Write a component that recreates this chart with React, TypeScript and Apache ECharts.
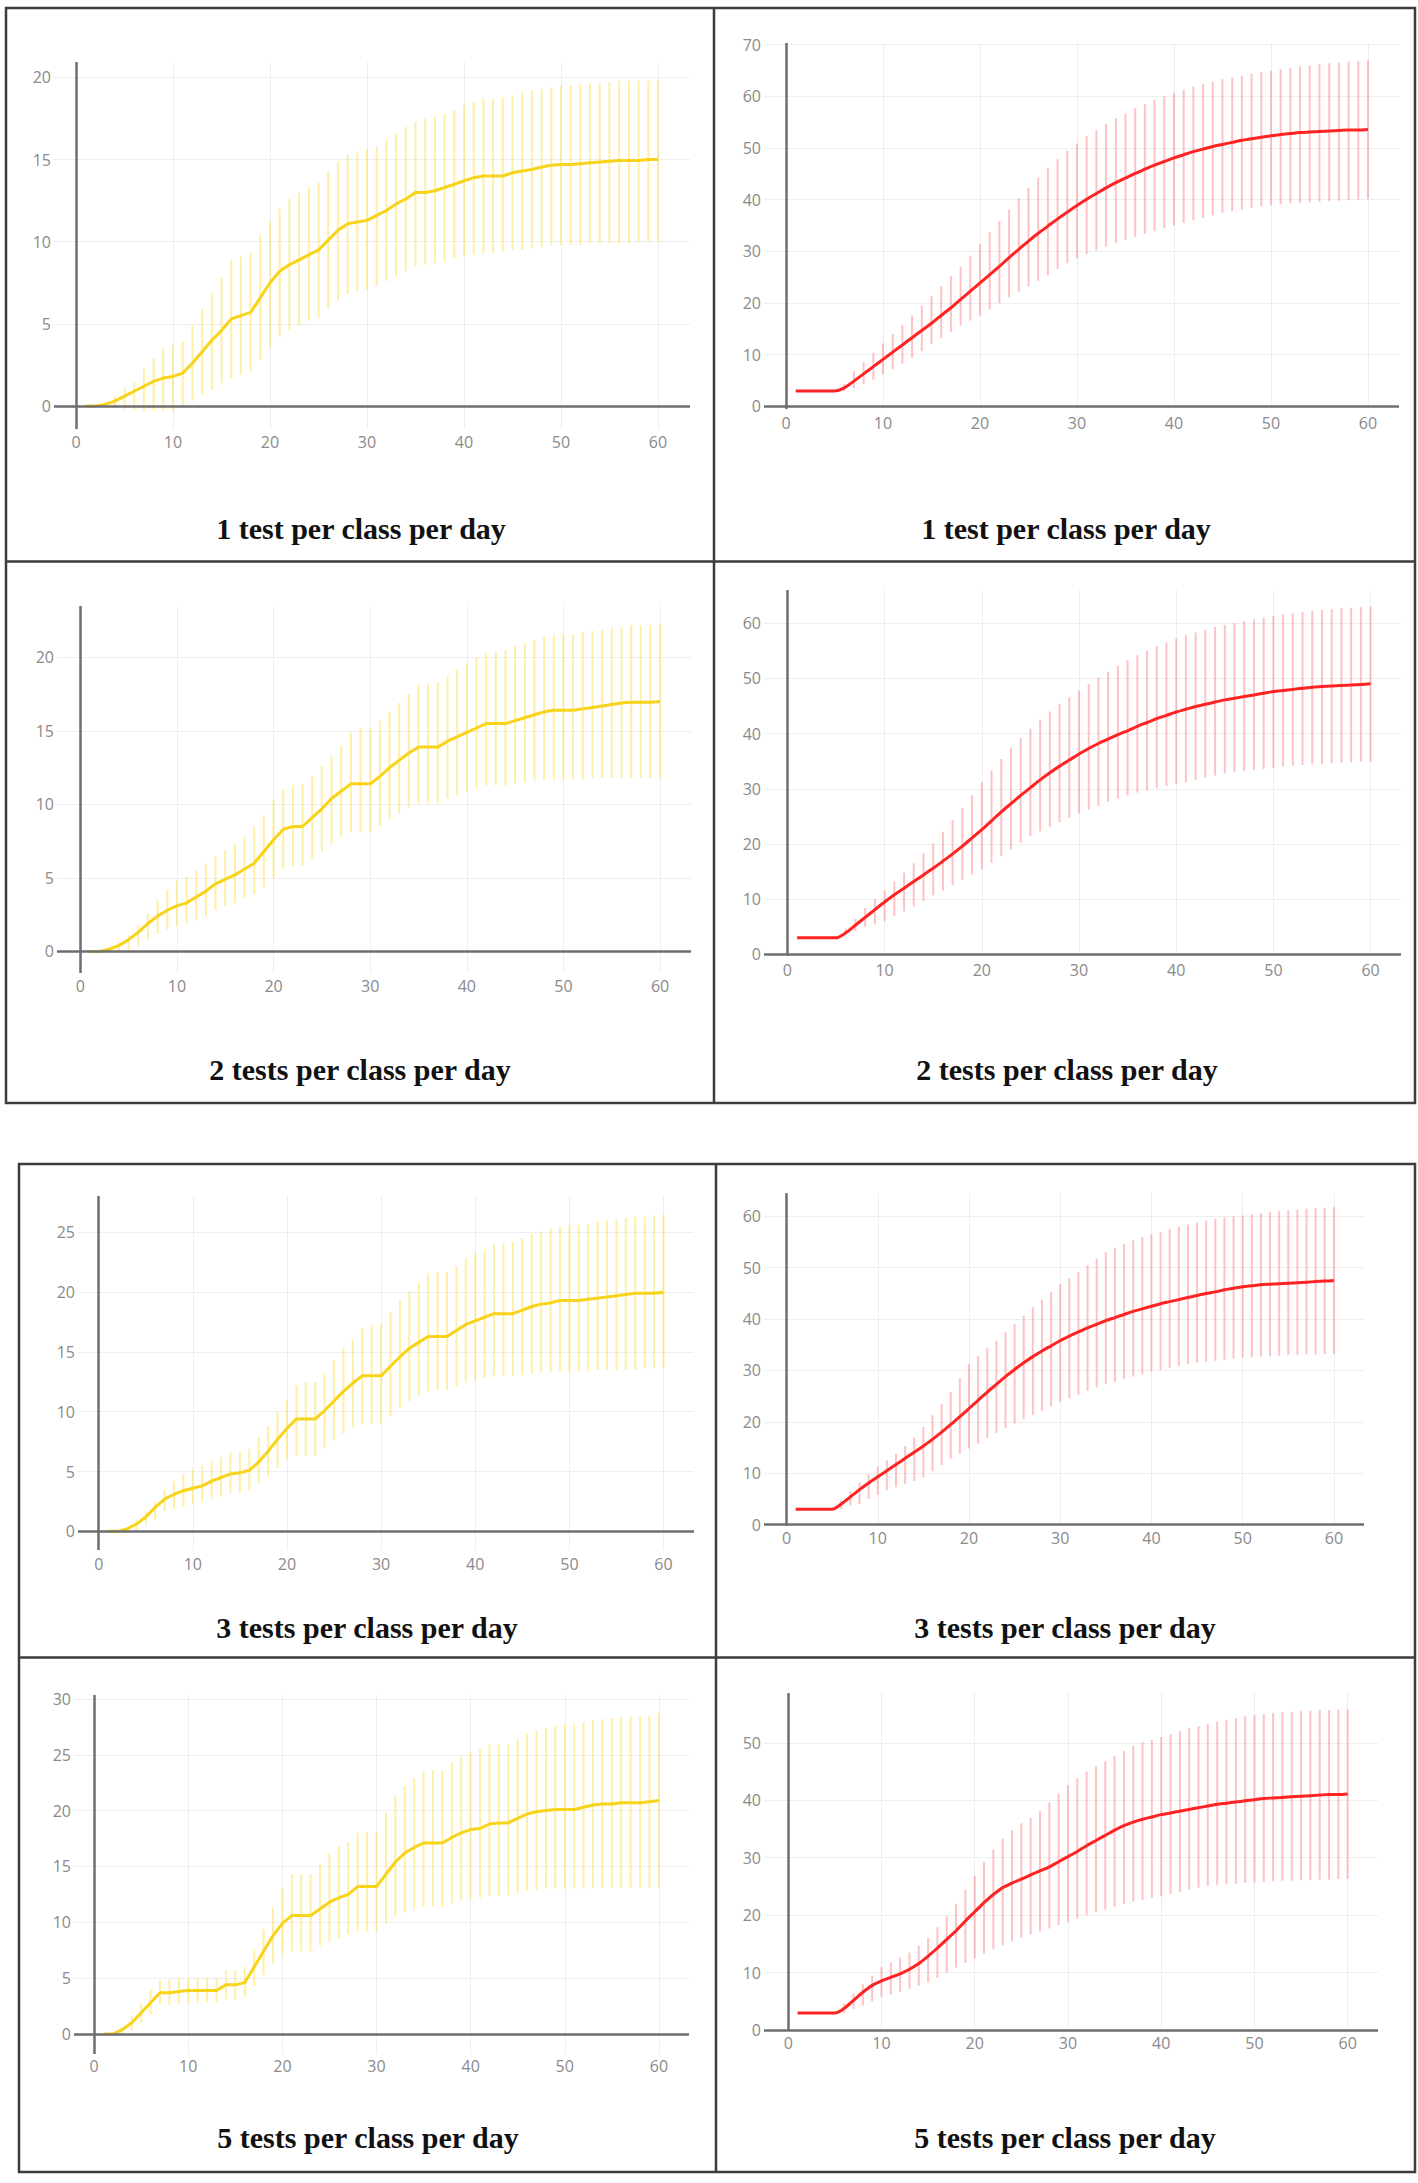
import React, { useEffect, useRef } from "react";
import * as echarts from "echarts";

// ---------- data ----------
const DAYS = [
  1, 2, 3, 4, 5, 6, 7, 8, 9, 10, 11, 12, 13, 14, 15, 16, 17, 18, 19, 20,
  21, 22, 23, 24, 25, 26, 27, 28, 29, 30, 31, 32, 33, 34, 35, 36, 37, 38, 39, 40,
  41, 42, 43, 44, 45, 46, 47, 48, 49, 50, 51, 52, 53, 54, 55, 56, 57, 58, 59, 60,
];
const X_TICKS = [0, 10, 20, 30, 40, 50, 60];

// 1 test per class per day (yellow)
const T1_Y_MEAN = [0,0,0.1,0.3,0.6,0.9,1.2,1.5,1.7,1.8, 2.0,2.6,3.3,4.0,4.6,5.3,5.5,5.7,6.6,7.5, 8.2,8.6,8.9,9.2,9.5,10.1,10.7,11.1,11.2,11.3, 11.6,11.9,12.3,12.6,13.0,13.0,13.1,13.3,13.5,13.7, 13.9,14.0,14.0,14.0,14.2,14.3,14.4,14.55,14.65,14.7, 14.7,14.75,14.8,14.85,14.9,14.95,14.95,14.95,15.0,15.0];
const T1_Y_HI = [0,0,0.2,0.6,1.1,1.5,2.3,2.9,3.5,3.7, 3.9,4.9,5.9,6.9,7.8,8.9,9.1,9.3,10.4,11.2, 12.0,12.6,13.0,13.3,13.6,14.3,14.9,15.3,15.5,15.6, 15.8,16.2,16.6,17.0,17.3,17.5,17.6,17.8,18.0,18.3, 18.5,18.7,18.7,18.8,18.9,19.1,19.2,19.3,19.4,19.5, 19.5,19.6,19.6,19.7,19.7,19.8,19.8,19.8,19.8,19.9];
const T1_Y_LO = [0,0,0,-0.1,-0.2,-0.3,-0.3,-0.3,-0.3,-0.3, 0,0.3,0.7,1.0,1.4,1.7,1.9,2.1,2.8,3.6, 4.2,4.6,4.9,5.2,5.4,5.9,6.4,6.8,7.0,7.1, 7.3,7.6,7.9,8.2,8.5,8.6,8.7,8.8,9.0,9.1, 9.2,9.3,9.3,9.4,9.5,9.5,9.6,9.7,9.8,9.8, 9.8,9.8,9.9,9.9,9.9,9.9,9.9,10.0,10.0,10.0];
const T1_Y_TICKS = [0, 5, 10, 15, 20];

// 1 test per class per day (red)
const T1_R_MEAN = [3,3,3,3,3,3.6,4.9,6.3,7.7,9.1, 10.5,11.9,13.3,14.7,16.1,17.6,19.1,20.7,22.3,23.9, 25.5,27.1,28.8,30.4,32.0,33.5,34.9,36.3,37.6,38.9, 40.1,41.2,42.3,43.3,44.2,45.1,45.9,46.7,47.4,48.1, 48.7,49.3,49.8,50.3,50.7,51.1,51.5,51.8,52.1,52.4, 52.6,52.8,53.0,53.1,53.2,53.3,53.4,53.5,53.5,53.6];
const T1_R_HI = [3,3,3,3,3,4.3,6.8,8.6,10.4,12.2, 14.0,15.8,17.6,19.5,21.4,23.3,25.2,27.1,29.2,31.4, 33.7,35.9,38.1,40.3,42.3,44.3,46.2,47.9,49.5,50.9, 52.3,53.5,54.7,55.8,56.7,57.7,58.5,59.3,60.0,60.7, 61.3,61.9,62.4,62.9,63.3,63.7,64.0,64.4,64.7,65.0, 65.3,65.5,65.8,66.0,66.2,66.4,66.5,66.7,66.8,67.0];
const T1_R_LO = [3,3,3,3,3,3.0,3.5,4.3,5.2,6.2, 7.2,8.3,9.4,10.7,12.0,13.2,14.4,15.6,16.6,17.6, 18.8,20.0,21.1,22.2,23.2,24.3,25.4,26.6,27.7,28.7, 29.5,30.2,30.9,31.6,32.2,32.8,33.4,33.9,34.5,35.0, 35.5,36.0,36.5,37.0,37.5,37.8,38.1,38.4,38.7,38.9, 39.1,39.3,39.4,39.5,39.6,39.7,39.8,39.9,40.0,40.1];
const T1_R_TICKS = [0, 10, 20, 30, 40, 50, 60, 70];

// 2 tests per class per day (yellow)
const T2_Y_MEAN = [0,0,0.15,0.4,0.8,1.3,1.9,2.4,2.8,3.1, 3.3,3.7,4.1,4.6,4.9,5.2,5.6,6.0,6.8,7.6, 8.3,8.5,8.5,9.1,9.7,10.4,10.9,11.4,11.4,11.4, 11.9,12.5,13.0,13.5,13.9,13.9,13.9,14.3,14.6,14.9, 15.2,15.5,15.5,15.5,15.7,15.9,16.1,16.3,16.4,16.4, 16.4,16.5,16.6,16.7,16.8,16.9,16.95,16.95,16.95,17.0];
const T2_Y_HI = [0,0,0.2,0.6,1.1,1.8,2.6,3.5,4.2,4.8, 5.1,5.5,6.0,6.5,6.9,7.3,7.8,8.5,9.3,10.3, 11.0,11.3,11.4,11.9,12.6,13.3,14.0,14.9,15.2,15.2, 15.7,16.3,16.9,17.5,18.1,18.2,18.3,18.7,19.2,19.6, 20.0,20.3,20.4,20.5,20.8,21.0,21.2,21.4,21.5,21.6, 21.6,21.7,21.8,21.9,22.0,22.1,22.2,22.2,22.2,22.3];
const T2_Y_LO = [0,0,0,-0.1,0,0.3,0.8,1.2,1.5,1.7, 1.9,2.1,2.4,2.8,3.1,3.3,3.6,3.9,4.4,5.0, 5.6,5.8,5.8,6.3,6.8,7.3,7.8,8.1,8.1,8.1, 8.5,9.0,9.4,9.8,10.1,10.1,10.1,10.4,10.6,10.9, 11.1,11.3,11.3,11.3,11.4,11.5,11.6,11.7,11.7,11.7, 11.7,11.7,11.8,11.8,11.8,11.8,11.8,11.8,11.8,11.8];
const T2_Y_TICKS = [0, 5, 10, 15, 20];

// 2 tests per class per day (red)
const T2_R_MEAN = [3,3,3,3,3,3.9,5.3,6.7,8.1,9.5, 10.8,12.0,13.2,14.4,15.6,16.9,18.2,19.6,21.1,22.6, 24.2,25.8,27.3,28.8,30.2,31.6,32.9,34.1,35.2,36.3, 37.3,38.2,39.0,39.8,40.5,41.3,42.0,42.7,43.3,43.9, 44.4,44.9,45.3,45.7,46.1,46.4,46.7,47.0,47.3,47.6, 47.8,48.0,48.2,48.4,48.5,48.6,48.7,48.8,48.9,49.0];
const T2_R_HI = [3,3,3,3,3,4.7,6.4,8.4,10.0,11.6, 13.2,14.8,16.5,18.3,20.1,22.2,24.3,26.5,28.8,31.2, 33.3,35.4,37.4,39.2,40.9,42.5,44.0,45.4,46.6,47.8, 49.0,50.1,51.2,52.3,53.3,54.2,55.0,55.8,56.5,57.2, 57.8,58.3,58.8,59.3,59.7,60.0,60.4,60.7,61.0,61.3, 61.6,61.8,62.0,62.2,62.4,62.5,62.7,62.8,62.9,63.0];
const T2_R_LO = [3,3,3,3,3,3.7,4.3,5.0,5.5,6.0, 6.9,7.8,8.7,9.7,10.7,11.6,12.6,13.5,14.5,15.4, 16.6,17.8,19.0,20.2,21.4,22.3,23.1,23.9,24.7,25.5, 26.2,26.9,27.6,28.2,28.8,29.3,29.7,30.1,30.5,30.8, 31.2,31.6,32.0,32.4,32.8,33.0,33.2,33.4,33.6,33.8, 34.0,34.2,34.3,34.4,34.5,34.6,34.7,34.8,34.9,34.9];
const T2_R_TICKS = [0, 10, 20, 30, 40, 50, 60];

// 3 tests per class per day (yellow)
const T3_Y_MEAN = [0,0,0.2,0.6,1.2,2.0,2.7,3.1,3.4,3.6, 3.8,4.2,4.5,4.8,4.9,5.1,5.8,6.7,7.7,8.6, 9.4,9.4,9.4,10.1,10.9,11.7,12.4,13.0,13.0,13.0, 13.8,14.6,15.3,15.8,16.3,16.3,16.3,16.8,17.3,17.6, 17.9,18.2,18.2,18.2,18.5,18.8,19.0,19.1,19.3,19.3, 19.3,19.4,19.5,19.6,19.7,19.8,19.9,19.9,19.9,20.0];
const T3_Y_HI = [0,0,0.3,0.9,1.6,2.4,3.5,4.2,4.8,5.2, 5.5,5.9,6.2,6.6,6.7,6.9,7.8,8.8,10.0,11.0, 12.2,12.5,12.5,13.2,14.3,15.3,16.0,17.0,17.3,17.4, 18.3,19.3,20.1,20.8,21.6,21.7,21.7,22.2,22.8,23.2, 23.6,24.0,24.1,24.2,24.5,24.9,25.1,25.3,25.5,25.6, 25.6,25.7,25.9,26.0,26.1,26.2,26.3,26.3,26.4,26.5];
const T3_Y_LO = [0,0,0,0.1,0.6,1.0,1.7,1.9,2.1,2.3, 2.5,2.7,2.9,3.2,3.2,3.4,4.0,4.6,5.3,6.0, 6.3,6.3,6.3,6.9,7.6,8.2,8.7,9.0,9.0,9.0, 9.6,10.3,10.9,11.3,11.7,11.8,11.8,12.1,12.4,12.6, 12.8,13.0,13.0,13.0,13.1,13.2,13.3,13.3,13.4,13.4, 13.4,13.4,13.5,13.5,13.5,13.5,13.5,13.6,13.6,13.6];
const T3_Y_TICKS = [0, 5, 10, 15, 20, 25];

// 3 tests per class per day (red)
const T3_R_MEAN = [3,3,3,3,3,4.0,5.4,6.8,8.1,9.3, 10.5,11.7,12.9,14.1,15.3,16.6,18.0,19.5,21.0,22.6, 24.2,25.8,27.3,28.8,30.2,31.5,32.7,33.8,34.8,35.8, 36.7,37.5,38.3,39.0,39.7,40.3,40.9,41.5,42.0,42.5, 43.0,43.4,43.8,44.2,44.6,45.0,45.3,45.7,46.0,46.3, 46.5,46.7,46.8,46.9,47.0,47.1,47.2,47.3,47.4,47.5];
const T3_R_HI = [3,3,3,3,3,4.7,6.5,8.2,9.8,11.3, 12.5,13.8,15.3,17.0,19.0,21.3,23.5,25.8,28.5,31.2, 32.8,34.3,35.8,37.4,39.0,40.7,42.3,43.8,45.3,46.8, 48.0,49.2,50.5,51.8,53.0,53.9,54.7,55.4,56.0,56.5, 57.0,57.5,58.0,58.4,58.8,59.2,59.5,59.8,60.0,60.2, 60.4,60.6,60.8,61.0,61.2,61.3,61.5,61.6,61.7,61.8];
const T3_R_LO = [3,3,3,3,3,3.0,3.7,4.0,5.0,5.8, 6.7,7.3,7.9,8.5,9.2,10.4,11.6,12.8,13.8,14.8, 15.8,16.8,17.8,18.8,19.7,20.5,21.3,22.1,23.0,23.9, 24.6,25.3,26.0,26.7,27.3,27.8,28.3,28.8,29.3,29.8, 30.1,30.5,30.9,31.2,31.5,31.7,31.9,32.1,32.3,32.5, 32.6,32.7,32.8,32.9,33.0,33.0,33.1,33.1,33.2,33.2];
const T3_R_TICKS = [0, 10, 20, 30, 40, 50, 60];

// 5 tests per class per day (yellow)
const T5_Y_MEAN = [0,0,0.4,1.0,1.9,2.8,3.7,3.7,3.8,3.9, 3.9,3.9,3.9,4.4,4.4,4.6,6.0,7.4,8.8,9.9, 10.6,10.6,10.6,11.2,11.8,12.2,12.5,13.2,13.2,13.2, 14.3,15.4,16.2,16.7,17.1,17.1,17.1,17.6,18.0,18.3, 18.4,18.8,18.9,18.9,19.3,19.7,19.9,20.0,20.1,20.1, 20.1,20.3,20.5,20.6,20.6,20.7,20.7,20.7,20.8,20.9];
const T5_Y_HI = [0,0,0.6,1.6,2.8,4.0,4.8,4.9,5.0,5.0, 5.0,5.0,5.0,5.7,5.7,6.0,7.6,9.4,11.3,13.0, 14.3,14.3,14.3,15.2,16.2,16.8,17.2,18.0,18.1,18.1, 19.8,21.3,22.2,22.9,23.5,23.6,23.6,24.3,24.8,25.2, 25.5,25.9,25.9,25.9,26.4,26.9,27.2,27.4,27.6,27.7, 27.7,27.9,28.1,28.2,28.3,28.4,28.4,28.4,28.5,28.7];
const T5_Y_LO = [0,0,0,0.3,1.0,1.8,2.6,2.6,2.7,2.8, 2.8,2.8,2.8,3.1,3.1,3.3,4.3,5.3,6.3,7.2, 7.4,7.4,7.4,7.9,8.3,8.6,8.9,9.2,9.2,9.2, 9.9,10.5,10.9,11.2,11.4,11.4,11.4,11.7,11.9,12.1, 12.2,12.4,12.4,12.4,12.6,12.8,12.9,13.0,13.0,13.0, 13.0,13.0,13.1,13.1,13.1,13.1,13.1,13.1,13.1,13.1];
const T5_Y_TICKS = [0, 5, 10, 15, 20, 25, 30];

// 5 tests per class per day (red)
const T5_R_MEAN = [3,3,3,3,3,3.8,5.2,6.6,7.8,8.6, 9.2,9.8,10.6,11.6,12.9,14.3,15.8,17.3,19.0,20.6, 22.2,23.6,24.8,25.6,26.3,27.0,27.7,28.4,29.3,30.2, 31.1,32.1,33.0,33.9,34.8,35.6,36.2,36.7,37.1,37.5, 37.8,38.1,38.4,38.7,39.0,39.3,39.5,39.7,39.9,40.1, 40.3,40.4,40.5,40.6,40.7,40.8,40.9,41.0,41.0,41.1];
const T5_R_HI = [3,3,3,3,3,4.6,6.4,8.0,9.5,11.0, 11.8,12.6,13.5,14.7,16.1,17.9,19.8,22.0,24.4,26.9, 29.3,31.4,33.3,34.8,36.0,36.9,38.1,39.6,41.1,42.6, 43.8,45.0,45.9,46.8,47.7,48.6,49.5,50.1,50.5,51.0, 51.5,52.0,52.5,52.9,53.3,53.7,54.0,54.3,54.6,54.8, 55.0,55.2,55.3,55.4,55.5,55.6,55.7,55.7,55.8,55.8];
const T5_R_LO = [3,3,3,3,3,3.0,3.7,4.3,5.0,5.8, 6.2,6.7,7.2,7.7,8.3,9.1,10.0,10.9,11.7,12.5, 13.3,14.1,14.8,15.5,16.1,16.7,17.2,17.7,18.3,18.8, 19.4,20.0,20.5,21.0,21.5,22.0,22.4,22.7,23.0,23.3, 23.7,24.1,24.5,24.8,25.1,25.3,25.4,25.5,25.6,25.7, 25.8,25.9,26.0,26.0,26.1,26.1,26.2,26.2,26.3,26.3];
const T5_R_TICKS = [0, 10, 20, 30, 40, 50];

const TITLES = [
  "1 test per class per day",
  "1 test per class per day",
  "2 tests per class per day",
  "2 tests per class per day",
  "3 tests per class per day",
  "3 tests per class per day",
  "5 tests per class per day",
  "5 tests per class per day",
];

// ---------- styles / layout ----------
const YELLOW = { line: "#f7d31a", bar: "rgba(255, 226, 90, 0.55)", smooth: false as boolean | number };
const RED = { line: "#ff2222", bar: "rgba(255, 125, 125, 0.47)", smooth: 0.3 as boolean | number };

type Panel = {
  title: string;
  mean: number[];
  lo: number[];
  hi: number[];
  yTicks: number[];
  pal: { line: string; bar: string; smooth: boolean | number };
  box: [number, number, number, number]; // left, top, right, bottom (px)
  xr: [number, number];
  yr: [number, number];
  xm: number;
  ym: number;
  tx: number;
  ty: number;
};

const PANELS: Panel[] = [
  { title: TITLES[0], mean: T1_Y_MEAN, lo: T1_Y_LO, hi: T1_Y_HI, yTicks: T1_Y_TICKS, pal: YELLOW,
    box: [54, 62, 690, 429], xr: [-2.27, 63.3], yr: [-1.4, 20.94], xm: 5, ym: 3, tx: 361, ty: 528 },
  { title: TITLES[1], mean: T1_R_MEAN, lo: T1_R_LO, hi: T1_R_HI, yTicks: T1_R_TICKS, pal: RED,
    box: [764, 43, 1399, 409], xr: [-2.27, 63.2], yr: [-0.5, 70.33], xm: 6, ym: 3, tx: 1066, ty: 528 },
  { title: TITLES[2], mean: T2_Y_MEAN, lo: T2_Y_LO, hi: T2_Y_HI, yTicks: T2_Y_TICKS, pal: YELLOW,
    box: [57, 606, 691, 973], xr: [-2.41, 63.2], yr: [-1.47, 23.5], xm: 5, ym: 3, tx: 360, ty: 1069 },
  { title: TITLES[3], mean: T2_R_MEAN, lo: T2_R_LO, hi: T2_R_HI, yTicks: T2_R_TICKS, pal: RED,
    box: [764, 590, 1401, 956], xr: [-2.41, 63.13], yr: [-0.29, 66.0], xm: 6, ym: 3, tx: 1067, ty: 1069 },
  { title: TITLES[4], mean: T3_Y_MEAN, lo: T3_Y_LO, hi: T3_Y_HI, yTicks: T3_Y_TICKS, pal: YELLOW,
    box: [78, 1196, 694, 1550], xr: [-2.2, 63.24], yr: [-1.56, 28.04], xm: 6, ym: 3, tx: 367, ty: 1627 },
  { title: TITLES[5], mean: T3_R_MEAN, lo: T3_R_LO, hi: T3_R_HI, yTicks: T3_R_TICKS, pal: RED,
    box: [764, 1193, 1364, 1526], xr: [-2.47, 63.3], yr: [-0.27, 64.55], xm: 4, ym: 3, tx: 1065, ty: 1627 },
  { title: TITLES[6], mean: T5_Y_MEAN, lo: T5_Y_LO, hi: T5_Y_HI, yTicks: T5_Y_TICKS, pal: YELLOW,
    box: [74, 1695, 689, 2054], xr: [-2.14, 63.2], yr: [-1.79, 30.35], xm: 4, ym: 3, tx: 368, ty: 2137 },
  { title: TITLES[7], mean: T5_R_MEAN, lo: T5_R_LO, hi: T5_R_HI, yTicks: T5_R_TICKS, pal: RED,
    box: [764, 1693, 1378, 2031], xr: [-2.6, 63.25], yr: [-0.14, 58.66], xm: 4, ym: 3, tx: 1065, ty: 2137 },
];

const LABEL_STYLE = { color: "#8a8a8a", fontSize: 16, fontFamily: "Open Sans" };
const BORDER = "#3c3c3c";

function buildOption(): any {
  const grid = PANELS.map((p) => ({
    left: p.box[0],
    top: p.box[1],
    width: p.box[2] - p.box[0],
    height: p.box[3] - p.box[1],
  }));
  const xAxis = PANELS.map((p, i) => ({
    type: "value",
    gridIndex: i,
    min: p.xr[0],
    max: p.xr[1],
    axisLine: { show: false },
    axisTick: { show: false, customValues: X_TICKS },
    axisLabel: { ...LABEL_STYLE, margin: p.xm, customValues: X_TICKS },
    splitLine: { show: true, lineStyle: { color: "#eeeeee", width: 1 } },
  }));
  const yAxis = PANELS.map((p, i) => ({
    type: "value",
    gridIndex: i,
    min: p.yr[0],
    max: p.yr[1],
    axisLine: { show: false },
    axisTick: { show: false, customValues: p.yTicks },
    axisLabel: { ...LABEL_STYLE, margin: p.ym, customValues: p.yTicks },
    splitLine: { show: true, lineStyle: { color: "#eeeeee", width: 1 } },
  }));
  const series: any[] = [];
  PANELS.forEach((p, i) => {
    series.push({
      type: "custom",
      xAxisIndex: i,
      yAxisIndex: i,
      silent: true,
      z: 2,
      encode: { x: 0, y: [1, 2] },
      data: DAYS.map((d, k) => [d, p.lo[k], p.hi[k]]),
      renderItem: (params: any, api: any) => {
        const x = api.value(0);
        const a = api.coord([x, api.value(1)]);
        const b = api.coord([x, api.value(2)]);
        return {
          type: "line",
          shape: { x1: a[0], y1: a[1], x2: b[0], y2: b[1] },
          style: { stroke: p.pal.bar, lineWidth: 2 },
        };
      },
      markLine: {
        silent: true,
        symbol: ["none", "none"],
        label: { show: false },
        lineStyle: { color: "#6e6e6e", width: 2.5, type: "solid" },
        data: [{ yAxis: 0 }, { xAxis: 0 }],
      },
    });
    series.push({
      type: "line",
      xAxisIndex: i,
      yAxisIndex: i,
      silent: true,
      z: 3,
      showSymbol: false,
      symbol: "none",
      smooth: p.pal.smooth,
      lineStyle: { color: p.pal.line, width: 3 },
      data: DAYS.map((d, k) => [d, p.mean[k]]),
    });
  });

  const lineEl = (x1: number, y1: number, x2: number, y2: number) => ({
    type: "line",
    silent: true,
    shape: { x1, y1, x2, y2 },
    style: { stroke: BORDER, lineWidth: 2.5 },
  });
  const graphic: any[] = [
    { type: "rect", silent: true, shape: { x: 6, y: 8, width: 1409, height: 1095 }, style: { fill: "none", stroke: BORDER, lineWidth: 2.5 } },
    lineEl(714, 8, 714, 1103),
    lineEl(6, 561.5, 1415, 561.5),
    { type: "rect", silent: true, shape: { x: 19, y: 1164, width: 1396, height: 1008 }, style: { fill: "none", stroke: BORDER, lineWidth: 2.5 } },
    lineEl(716, 1164, 716, 2172),
    lineEl(19, 1657.5, 1415, 1657.5),
  ];
  PANELS.forEach((p) => {
    graphic.push({
      type: "text",
      silent: true,
      x: p.tx,
      y: p.ty,
      style: {
        text: p.title,
        fill: "#111",
        fontSize: 30,
        fontWeight: "bold",
        fontFamily: "'Liberation Serif', 'Times New Roman', serif",
        align: "center",
        verticalAlign: "middle",
        textAlign: "center",
        textVerticalAlign: "middle",
      },
    });
  });

  return {
    animation: false,
    backgroundColor: "#ffffff",
    grid,
    xAxis,
    yAxis,
    series,
    graphic,
  };
}

export default function App() {
  const ref = useRef<HTMLDivElement>(null);
  useEffect(() => {
    document.body.style.margin = "0";
    const chart = echarts.init(ref.current as HTMLDivElement, null, { renderer: "svg" });
    chart.setOption(buildOption());
    return () => chart.dispose();
  }, []);
  return (
    <div
      ref={ref}
      style={{ position: "absolute", left: 0, top: 0, width: 1418, height: 2183, background: "#fff" }}
    />
  );
}
